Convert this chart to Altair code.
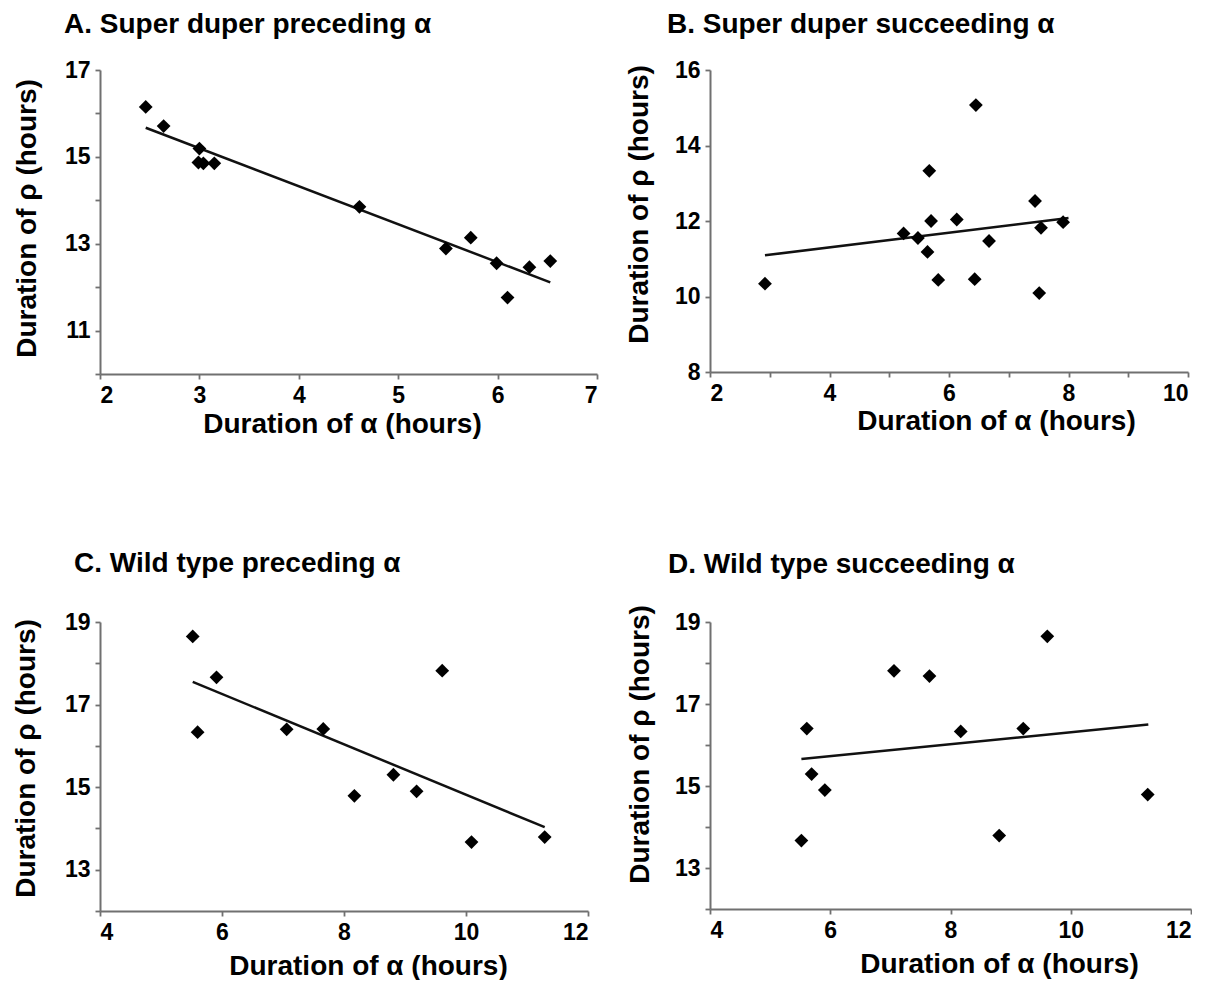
import altair as alt
import pandas as pd

FONT = "Liberation Sans"
AXIS_GRAY = "#707070"

# ---- data ----
A_x = [2.46, 2.64, 3.00, 2.99, 3.04, 3.15, 4.61, 5.48, 5.73, 5.99, 6.10, 6.32, 6.53]
A_y = [16.15, 15.71, 15.19, 14.87, 14.85, 14.85, 13.85, 12.89, 13.14, 12.55, 11.76, 12.46, 12.60]
A_fit_x = [2.46, 6.53]
A_fit_y = [15.67, 12.11]

B_x = [2.92, 5.24, 5.48, 5.64, 5.67, 5.70, 5.82, 6.13, 6.45, 6.43, 6.67, 7.44, 7.54, 7.51, 7.91]
B_y = [10.34, 11.67, 11.55, 11.18, 13.33, 12.00, 10.44, 12.04, 15.07, 10.46, 11.47, 12.53, 11.82, 10.09, 11.97]
B_fit_x = [2.92, 8.00]
B_fit_y = [11.09, 12.08]

C_x = [5.52, 5.60, 5.91, 7.06, 7.66, 8.17, 8.81, 9.19, 9.61, 10.09, 11.29]
C_y = [18.65, 16.33, 17.66, 16.40, 16.41, 14.79, 15.30, 14.90, 17.82, 13.67, 13.79]
C_fit_x = [5.52, 11.29]
C_fit_y = [17.55, 14.03]

D_x = [5.52, 5.61, 5.69, 5.91, 7.06, 7.65, 8.17, 8.81, 9.21, 9.61, 11.28]
D_y = [13.67, 16.40, 15.29, 14.90, 17.81, 17.68, 16.33, 13.79, 16.40, 18.65, 14.79]
D_fit_x = [5.52, 11.29]
D_fit_y = [15.66, 16.50]

titles = [
    "A. Super duper preceding \u03b1",
    "B. Super duper succeeding \u03b1",
    "C. Wild type preceding \u03b1",
    "D. Wild type succeeding \u03b1",
]
x_title = "Duration of \u03b1 (hours)"
y_title = "Duration of \u03c1 (hours)"

A_xticks = [2, 3, 4, 5, 6, 7]
A_yticks = [10, 11, 12, 13, 14, 15, 16, 17]
A_ylabels = [11, 13, 15, 17]
B_xticks = [2, 3, 4, 5, 6, 7, 8, 9, 10]
B_xlabels = [2, 4, 6, 8, 10]
B_yticks = [8, 9, 10, 11, 12, 13, 14, 15, 16]
B_ylabels = [8, 10, 12, 14, 16]
CD_xticks = [4, 6, 8, 10, 12]
CD_yticks = [12, 13, 14, 15, 16, 17, 18, 19]
CD_ylabels = [13, 15, 17, 19]


def label_expr(labels):
    return "indexof([" + ",".join(str(v) for v in labels) + "], datum.value) >= 0 ? datum.label : ''"


def axis(values, labels, title, **kw):
    return alt.Axis(
        values=values, labelExpr=label_expr(labels), title=title, format="d",
        grid=False, domainColor=AXIS_GRAY, domainWidth=2,
        tickColor=AXIS_GRAY, tickWidth=1.8, tickSize=5,
        labelFont=FONT, labelFontSize=23, labelFontWeight="bold", labelColor="black",
        labelPadding=5,
        titleFont=FONT, titleFontSize=28, titleFontWeight="bold", titleColor="black",
        **kw,
    )


def panel(xs, ys, fx, fy, title, xdom, xticks, xlabels, ydom, yticks, ylabels,
          w, h, tdx, toff, xtx, xty, ytx, yty):
    pts = pd.DataFrame({"x": xs, "y": ys})
    fit = pd.DataFrame({"x": fx, "y": fy})
    xaxis = axis(xticks, xlabels, x_title, titleX=xtx, titleY=xty, titleBaseline="alphabetic")
    yaxis = axis(yticks, ylabels, y_title, titleX=ytx, titleY=yty)
    xs_ = alt.Scale(domain=xdom, nice=False, zero=False)
    ys_ = alt.Scale(domain=ydom, nice=False, zero=False)
    points = alt.Chart(pts).mark_point(shape="diamond", filled=True, size=190,
                                       color="black", opacity=1).encode(
        x=alt.X("x:Q", scale=xs_, axis=xaxis),
        y=alt.Y("y:Q", scale=ys_, axis=yaxis),
    )
    line = alt.Chart(fit).mark_line(color="#111111", strokeWidth=2.5).encode(
        x=alt.X("x:Q", scale=xs_),
        y=alt.Y("y:Q", scale=ys_),
    )
    return alt.layer(line, points).properties(
        width=w, height=h,
        title=alt.TitleParams(text=title, anchor="start", frame="group", dx=tdx,
                              offset=toff, baseline="alphabetic", fontSize=28,
                              fontWeight="bold", font=FONT, color="black"),
    )


pA = panel(A_x, A_y, A_fit_x, A_fit_y, titles[0], [2, 7], A_xticks, A_xticks,
           [10, 17], A_yticks, A_ylabels, 497, 304, -36, -2, 242, 58, -59, 148)
pB = panel(B_x, B_y, B_fit_x, B_fit_y, titles[1], [2, 10], B_xticks, B_xlabels,
           [8, 16], B_yticks, B_ylabels, 478, 302, -43, -2, 286, 57, -57, 134)
pC = panel(C_x, C_y, C_fit_x, C_fit_y, titles[2], [4, 12], CD_xticks, CD_xticks,
           [12, 19], CD_yticks, CD_ylabels, 488, 289, -26, 11, 268, 63, -60, 136)
pD = panel(D_x, D_y, D_fit_x, D_fit_y, titles[3], [4, 12], CD_xticks, CD_xticks,
           [12, 19], CD_yticks, CD_ylabels, 481, 287, -42, 4, 289, 63, -56, 122)

chart = alt.concat(pA, pB, pC, pD, columns=2, spacing={"row": 248, "column": 113},
                   bounds="flush", align="none").configure_view(
    stroke=None
).properties(padding={"left": 3, "top": 3, "right": 0, "bottom": 0}, background="white")

chart.save("out.html", embed_options={"renderer": "svg", "actions": False})
